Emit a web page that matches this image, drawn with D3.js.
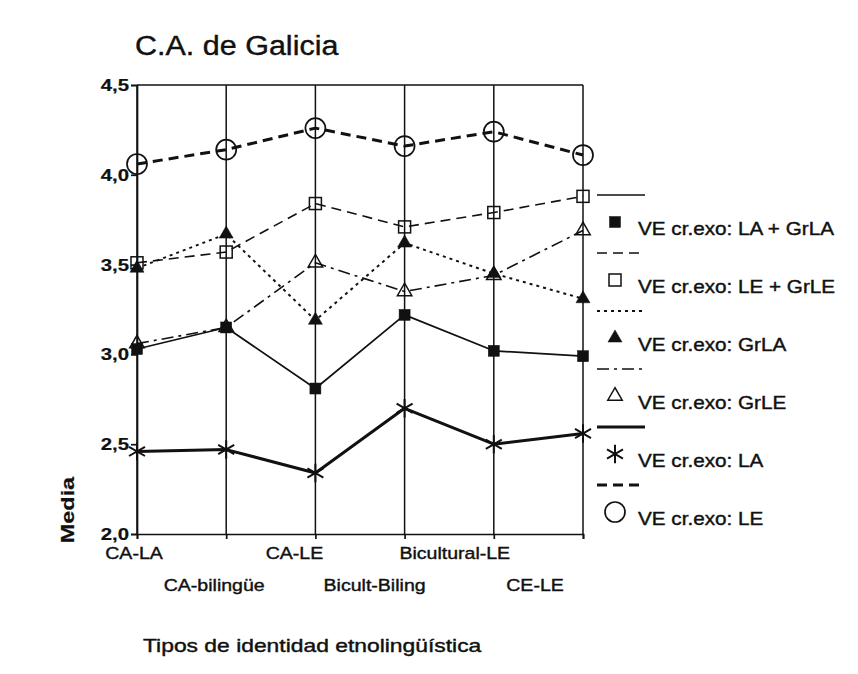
<!DOCTYPE html>
<html>
<head>
<meta charset="utf-8">
<script src="https://cdn.jsdelivr.net/npm/d3@7"></script>
<style>
  html, body { margin: 0; padding: 0; background: #fff; }
  svg { display: block; font-family: "Liberation Sans", Arial, sans-serif; }
</style>
</head>
<body>
<svg id="chart" width="858" height="674"></svg>
<script>
// ---------- data ----------
const categories = ["CA-LA", "CA-bilingüe", "CA-LE", "Bicult-Biling", "Bicultural-LE", "CE-LE"];
const seriesNames = [
  "VE cr.exo: LA + GrLA",
  "VE cr.exo: LE + GrLE",
  "VE cr.exo: GrLA",
  "VE cr.exo: GrLE",
  "VE cr.exo: LA",
  "VE cr.exo: LE"
];
const valsLA_GrLA = [3.03, 3.15, 2.81, 3.22, 3.02, 2.99];
const valsLE_GrLE = [3.51, 3.57, 3.84, 3.71, 3.79, 3.88];
const valsGrLA    = [3.48, 3.67, 3.19, 3.62, 3.45, 3.31];
const valsGrLE    = [3.06, 3.15, 3.51, 3.35, 3.44, 3.69];
const valsLA      = [2.46, 2.47, 2.34, 2.70, 2.50, 2.56];
const valsLE      = [4.06, 4.14, 4.26, 4.16, 4.24, 4.11];
const yTicks = [2.0, 2.5, 3.0, 3.5, 4.0, 4.5];
const titleText = "C.A. de Galicia";
const yTitle = "Media";
const xTitle = "Tipos de identidad etnolingüística";

const seriesValues = [valsLA_GrLA, valsLE_GrLE, valsGrLA, valsGrLE, valsLA, valsLE];

// ---------- styles ----------
const styles = [
  { width: 1.7, dash: null,        marker: "square",   filled: true  },
  { width: 1.6, dash: "10,6",      marker: "square",   filled: false },
  { width: 2.0, dash: "3,4",       marker: "triangle", filled: true  },
  { width: 1.6, dash: "12,5,3,5",  marker: "triangle", filled: false },
  { width: 3.0, dash: null,        marker: "asterisk", filled: false },
  { width: 3.0, dash: "10,6",      marker: "circle",   filled: false }
];
const ink = "#111";

const svg = d3.select("#chart");
const x = d3.scalePoint().domain(categories).range([137, 583]);
const y = d3.scaleLinear().domain([2, 4.5]).range([534, 85]);
const xLabelPos = d3.scalePoint().domain(categories).range([134, 535]);

function stretchedText(g, txt, px, py, size, sx, opts = {}) {
  const t = g.append("text")
    .attr("transform", `translate(${px},${py}) ${opts.rotate ? "rotate(" + opts.rotate + ")" : ""} scale(${sx},1)`)
    .attr("font-size", size)
    .attr("fill", ink)
    .attr("stroke", ink)
    .attr("stroke-width", opts.weight === "bold" ? 0.2 : 0.4)
    .attr("text-anchor", opts.anchor || "start")
    .attr("font-weight", opts.weight || "normal")
    .text(txt);
  return t;
}

// title
stretchedText(svg, titleText, 135, 55, 28, 1.09);

// gridlines (vertical at each category)
svg.append("g").selectAll("line").data(categories).join("line")
  .attr("x1", d => x(d)).attr("x2", d => x(d))
  .attr("y1", y(4.5)).attr("y2", y(2))
  .attr("stroke", ink).attr("stroke-width", 1.5);
// top border
svg.append("line")
  .attr("x1", x(categories[0])).attr("x2", x(categories[categories.length - 1]))
  .attr("y1", y(4.5)).attr("y2", y(4.5))
  .attr("stroke", ink).attr("stroke-width", 1.7);

// y axis
const yAxis = svg.append("g").attr("transform", `translate(${x(categories[0])},0)`)
  .call(d3.axisLeft(y).tickValues(yTicks).tickSize(6).tickFormat(""));
yAxis.select(".domain").attr("stroke", ink).attr("stroke-width", 1.7);
yAxis.selectAll(".tick line").attr("stroke", ink).attr("stroke-width", 1.7);
yTicks.forEach(v => {
  stretchedText(svg, d3.format(".1f")(v).replace(".", ","), 129, y(v) + 6, 17, 1.2, { anchor: "end", weight: "bold" });
});

// x axis
const xAxis = svg.append("g").attr("transform", `translate(0,${y(2)})`)
  .call(d3.axisBottom(x).tickSize(5).tickFormat(""));
xAxis.select(".domain").attr("stroke", ink).attr("stroke-width", 1.7);
xAxis.selectAll(".tick line").attr("stroke", ink).attr("stroke-width", 1.7);
categories.forEach((c, i) => {
  const row = i % 2;
  stretchedText(svg, c, xLabelPos(c), row === 0 ? 559 : 591, 17, 1.15, { anchor: "middle" });
});

// axis titles
stretchedText(svg, yTitle, 74, 510, 18, 1.3, { anchor: "middle", weight: "bold", rotate: -90 });
stretchedText(svg, xTitle, 143, 652, 18, 1.27);

// markers
function drawMarker(g, st, cx, cy) {
  if (st.marker === "circle") {
    g.append("circle").attr("cx", cx).attr("cy", cy).attr("r", 10)
      .attr("fill", "none").attr("stroke", ink).attr("stroke-width", 1.7);
  } else if (st.marker === "square") {
    const s = st.filled ? 11 : 12;
    g.append("rect").attr("x", cx - s / 2).attr("y", cy - s / 2).attr("width", s).attr("height", s)
      .attr("fill", st.filled ? ink : "none").attr("stroke", ink).attr("stroke-width", st.filled ? 0.5 : 1.5);
  } else if (st.marker === "triangle") {
    g.append("path").attr("transform", `translate(${cx},${cy})`)
      .attr("d", d3.symbol(d3.symbolTriangle, st.filled ? 85 : 90)())
      .attr("fill", st.filled ? ink : "none").attr("stroke", ink).attr("stroke-width", st.filled ? 0.5 : 1.5);
  } else if (st.marker === "asterisk") {
    g.append("path").attr("transform", `translate(${cx},${cy})`)
      .attr("d", d3.symbol(d3.symbolAsterisk, 240)())
      .attr("fill", "none").attr("stroke", ink).attr("stroke-width", 2);
  }
}

// series lines
const line = d3.line().x((d, i) => x(categories[i])).y(d => y(d));
const linesG = svg.append("g");
seriesValues.forEach((vals, si) => {
  const st = styles[si];
  linesG.append("path").datum(vals).attr("d", line)
    .attr("fill", "none").attr("stroke", ink).attr("stroke-width", st.width)
    .attr("stroke-dasharray", st.dash).attr("stroke-linejoin", "round");
});
const markG = svg.append("g");
seriesValues.forEach((vals, si) => {
  vals.forEach((v, i) => drawMarker(markG, styles[si], x(categories[i]), y(v)));
});

// legend
const legG = svg.append("g");
seriesNames.forEach((name, si) => {
  const st = styles[si];
  const ly = 195 + si * 58;
  legG.append("line").attr("x1", 597).attr("x2", 645).attr("y1", ly).attr("y2", ly)
    .attr("stroke", ink).attr("stroke-width", st.width).attr("stroke-dasharray", st.dash);
  drawMarker(legG, st, 615, ly + 27);
  stretchedText(legG, name, 638, ly + 40, 18, 1.15);
});
</script>
</body>
</html>
